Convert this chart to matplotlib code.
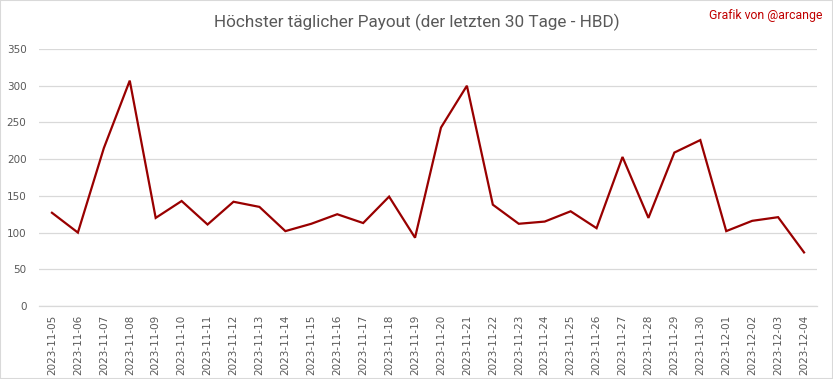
import matplotlib
matplotlib.use("Agg")
import matplotlib.pyplot as plt
from matplotlib.patches import Rectangle

# Daten
dates = ["2023-11-05", "2023-11-06", "2023-11-07", "2023-11-08", "2023-11-09",
         "2023-11-10", "2023-11-11", "2023-11-12", "2023-11-13", "2023-11-14",
         "2023-11-15", "2023-11-16", "2023-11-17", "2023-11-18", "2023-11-19",
         "2023-11-20", "2023-11-21", "2023-11-22", "2023-11-23", "2023-11-24",
         "2023-11-25", "2023-11-26", "2023-11-27", "2023-11-28", "2023-11-29",
         "2023-11-30", "2023-12-01", "2023-12-02", "2023-12-03", "2023-12-04"]
payout = [127, 100, 215, 307, 120, 143, 111, 142, 135, 102,
          112, 125, 113, 149, 93, 243, 300, 138, 112, 115,
          129, 106, 203, 120, 209, 226, 102, 116, 121, 73]
yticks = [0, 50, 100, 150, 200, 250, 300, 350]

plt.rcParams['font.family'] = ['DejaVu Sans']
grey = '#595959'

fig = plt.figure(figsize=(8.33, 3.79), dpi=100)
ax = fig.add_axes([0.0468, 0.1926, 0.934, 0.678])

x = list(range(len(dates)))
ax.plot(x, payout, color='#990000', linewidth=1.6, solid_joinstyle='miter')

ax.set_xlim(-0.5, len(dates) - 0.5)
ax.set_ylim(0, 350)
ax.set_yticks(yticks)
ax.set_xticks(x)
ax.set_xticklabels(dates, rotation=90, fontsize=7.5, color=grey)
ax.tick_params(axis='y', labelsize=7.5, labelcolor=grey, length=0, pad=9)
ax.tick_params(axis='x', length=0, pad=6)
ax.grid(axis='y', color='#D9D9D9', linewidth=0.9)
ax.set_axisbelow(True)
for s in ['top', 'right', 'left']:
    ax.spines[s].set_visible(False)
ax.spines['bottom'].set_color('#D9D9D9')
ax.spines['bottom'].set_linewidth(0.9)

fig.text(0.5, 0.942, 'Höchster täglicher Payout (der letzten 30 Tage - HBD)',
         ha='center', va='center', fontsize=12.3, color=grey,
         family=['Roboto', 'DejaVu Sans'])
fig.text(0.987, 0.96, 'Grafik von @arcange', ha='right', va='center',
         fontsize=8.8, color='#C00000', family=['Roboto', 'DejaVu Sans'])

fig.patches.append(Rectangle((0, 0), 1, 1, transform=fig.transFigure,
                             fill=False, edgecolor='#D9D9D9', linewidth=1.5))

fig.savefig('out.png', dpi=100)
